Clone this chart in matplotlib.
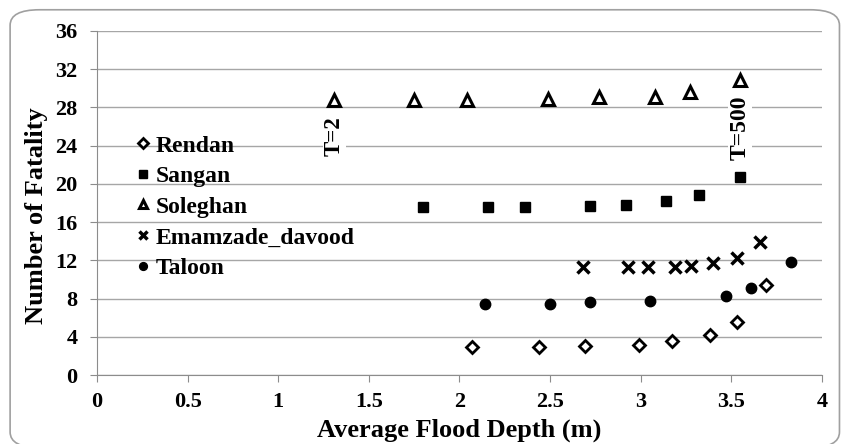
import matplotlib.pyplot as plt
from matplotlib.patches import FancyBboxPatch

plt.rcParams['font.family'] = ['Liberation Serif', 'DejaVu Serif']
plt.rcParams['font.weight'] = 'bold'

# data
rendan_x = [2.07, 2.44, 2.69, 2.99, 3.17, 3.38, 3.53, 3.69]
rendan_y = [2.9, 2.9, 3.0, 3.1, 3.6, 4.2, 5.5, 9.4]
sangan_x = [1.80, 2.16, 2.36, 2.72, 2.92, 3.14, 3.32, 3.55]
sangan_y = [17.6, 17.6, 17.6, 17.7, 17.8, 18.2, 18.8, 20.7]
soleghan_x = [1.31, 1.75, 2.04, 2.49, 2.77, 3.08, 3.27, 3.55]
soleghan_y = [28.8, 28.8, 28.8, 28.9, 29.1, 29.1, 29.6, 30.9]
emam_x = [2.68, 2.93, 3.04, 3.19, 3.28, 3.40, 3.53, 3.66]
emam_y = [11.3, 11.3, 11.3, 11.3, 11.4, 11.7, 12.2, 13.9]
taloon_x = [2.14, 2.50, 2.72, 3.05, 3.47, 3.61, 3.83]
taloon_y = [7.4, 7.4, 7.6, 7.7, 8.3, 9.1, 11.8]

fig = plt.figure(figsize=(8.42, 4.44), dpi=100)
# chart-area border, its bottom edge falls just outside the picture
fig.patches.append(FancyBboxPatch((0.012, -0.008), 0.985, 0.986,
                                  boxstyle='round,pad=0,rounding_size=0.035',
                                  transform=fig.transFigure, fill=False,
                                  edgecolor='#a0a0a0', linewidth=1.2))
ax = fig.add_axes([0.1152, 0.1554, 0.861, 0.775])

ax.plot(rendan_x, rendan_y, 'D', ms=6.5, mfc='white', mec='black', mew=2, label='Rendan')
ax.plot(sangan_x, sangan_y, 's', ms=7.5, color='black', label='Sangan')
ax.plot(soleghan_x, soleghan_y, '^', ms=8.5, mfc='white', mec='black', mew=2.2, label='Soleghan')
ax.plot(emam_x, emam_y, 'x', ms=8, color='black', mew=2.5, label='Emamzade_davood')
ax.plot(taloon_x, taloon_y, 'o', ms=7.5, color='black', label='Taloon')

ax.text(1.31, 25.0, 'T=2', rotation=90, ha='center', va='center', fontsize=16.5,
        fontweight='bold', bbox=dict(facecolor='white', edgecolor='none', pad=1))
ax.text(3.55, 25.9, 'T=500', rotation=90, ha='center', va='center', fontsize=17,
        fontweight='bold', bbox=dict(facecolor='white', edgecolor='none', pad=1))

ax.set_xlim(0, 4)
ax.set_ylim(0, 36)
ax.set_xticks([0, 0.5, 1, 1.5, 2, 2.5, 3, 3.5, 4])
ax.set_xticklabels(['0', '0.5', '1', '1.5', '2', '2.5', '3', '3.5', '4'])
ax.set_yticks(range(0, 37, 4))
ax.grid(axis='y', color='#a6a6a6', linewidth=1)
ax.set_axisbelow(True)
for s in ['top', 'right']:
    ax.spines[s].set_visible(False)
for s in ['left', 'bottom']:
    ax.spines[s].set_color('#8c8c8c')
ax.tick_params(colors='#8c8c8c', length=5, labelcolor='black', labelsize=16)
ax.tick_params(axis='x', pad=7)
ax.tick_params(axis='y', pad=9)
for lab in ax.get_xticklabels() + ax.get_yticklabels():
    lab.set_fontweight('bold')
ax.set_xlabel('Average Flood Depth (m)', fontsize=19, fontweight='bold')
ax.set_ylabel('Number of Fatality', fontsize=19, fontweight='bold')
ax.xaxis.set_label_coords(0.5, -0.128)
ax.yaxis.set_label_coords(-0.068, 0.462)

leg = ax.legend(loc='upper left', bbox_to_anchor=(0.042, 0.725), frameon=False,
                prop={'size': 17, 'weight': 'bold'}, handlelength=0.5,
                handletextpad=0.3, labelspacing=0.385, markerscale=0.75,
                borderaxespad=0)

fig.savefig('out.png', dpi=100)
